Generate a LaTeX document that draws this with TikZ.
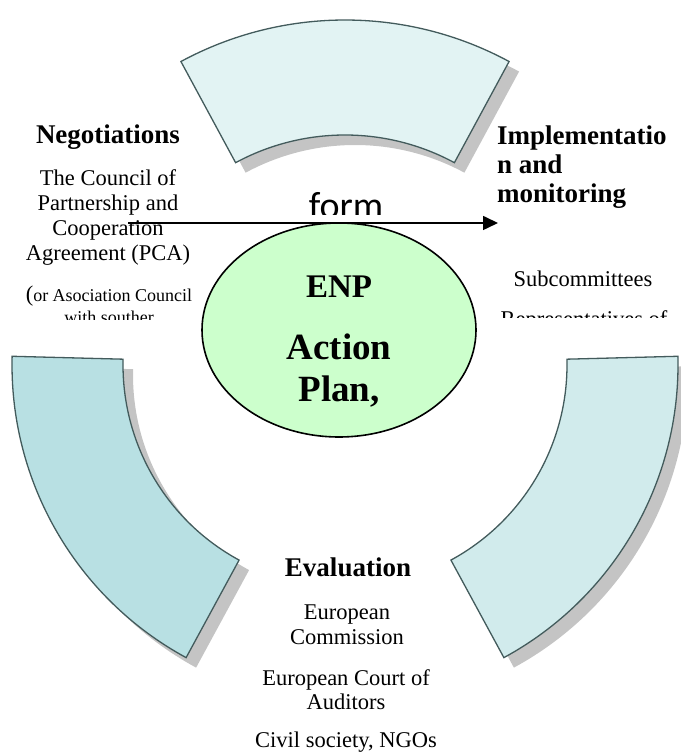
\documentclass[tikz,border=0pt]{standalone}
\usepackage{fontspec}
\setmainfont{Liberation Serif}
\newfontfamily\formfont{Carlito}
\usetikzlibrary{arrows.meta,shapes.geometric}
\definecolor{segtop}{HTML}{E2F3F3}
\definecolor{segleft}{HTML}{B8E0E3}
\definecolor{segright}{HTML}{D1EBEC}
\definecolor{segline}{HTML}{435B5C}
\definecolor{shadowgray}{HTML}{C4C4C4}
\definecolor{ellfill}{HTML}{CCFFCC}

\begin{document}
\begin{tikzpicture}[x=1pt, y=1pt,
    segment/.style={draw=segline, line width=1.3pt},
    segshadow/.style={fill=shadowgray},
    body/.style={font=\fontsize{22.5}{25}\selectfont, anchor=base, inner sep=0pt},
    small/.style={font=\fontsize{18}{21}\selectfont, anchor=base, inner sep=0pt},
    head/.style={font=\bfseries\fontsize{27}{29}\selectfont, anchor=base, inner sep=0pt},
    plantext/.style={font=\bfseries\fontsize{37}{40}\selectfont, anchor=base, inner sep=0pt}]
    \useasboundingbox (0,0) rectangle (680,754);

    % Ring segments with their shadows
    \foreach \a/\b/\R/\r/\c in {61.6/118.4/345/230/segtop, 178.5/241.5/333/222/segleft, -61.5/1.5/333/222/segright} {
        \fill[segshadow, shift={(10,-10)}] (345,389) ++(\a:\R) arc[start angle=\a, end angle=\b, radius=\R] -- ++({\b+180}:{\R-\r}) arc[start angle=\b, end angle=\a, radius=\r] -- cycle;
        \filldraw[segment, fill=\c] (345,389) ++(\a:\R) arc[start angle=\a, end angle=\b, radius=\R] -- ++({\b+180}:{\R-\r}) arc[start angle=\b, end angle=\a, radius=\r] -- cycle;
    }

    % Negotiations
    \node[head] (neg) at (108,610) {Negotiations};
    \begin{scope}
        \clip (0,434) rectangle (235,700);
        \foreach \t [count=\i] in {The Council of, Partnership and, Cooperation, Agreement (PCA)}
            \node[body] (pca\i) at (108,593-25*\i) {\t};
        \node[small] (asoc1) at (109,452) {{\fontsize{22.5}{25}\selectfont(}or Asociation Council};
        \node[small] (asoc2) at (109,430) {with souther};
    \end{scope}

    % Implementation and monitoring
    \foreach \t [count=\i] in {Implementatio, n and, monitoring}
        \node[head, anchor=base west] (impl\i) at (497,638-29*\i) {\t};
    \begin{scope}
        \clip (470,436) rectangle (680,700);
        \node[body] (subc) at (583,467) {Subcommittees};
        \node[body] (repr) at (584,427) {Representatives of};
    \end{scope}

    % Evaluation
    \node[head] (eval) at (348,177) {Evaluation};
    \node[body] (eu1) at (347,134) {European};
    \node[body] (eu2) at (347,109) {Commission};
    \node[body] (court1) at (346,68) {European Court of};
    \node[body] (court2) at (346,44) {Auditors};
    \node[body] (civil) at (346,6) {Civil society, NGOs};

    % Arrow from negotiations to implementation
    \coordinate (arrs) at (128,531);
    \coordinate (arre) at (498,531);
    \draw[line width=1.6pt, -{Triangle[length=15pt, width=14pt]}] (arrs) -- (arre);

    % form box
    \fill[white] (290,531.8) rectangle (418,566);
    \begin{scope}
        \clip (290,539.5) rectangle (418,566);
        \node[anchor=base, inner sep=0pt, font=\formfont\fontsize{38}{40}\selectfont] (form) at (346,535) {form};
    \end{scope}

    % ENP Action Plan
    \node[ellipse, draw, line width=1.6pt, fill=ellfill, minimum width=274pt, minimum height=214pt] (plan) at (339,424) {};
    \node[plantext, font=\bfseries\fontsize{33}{36}\selectfont] (enp) at (339,456) {ENP};
    \node[plantext] (action) at (339,394) {Action};
    \node[plantext] (plancomma) at (339,352) {Plan,};
\end{tikzpicture}
\end{document}
